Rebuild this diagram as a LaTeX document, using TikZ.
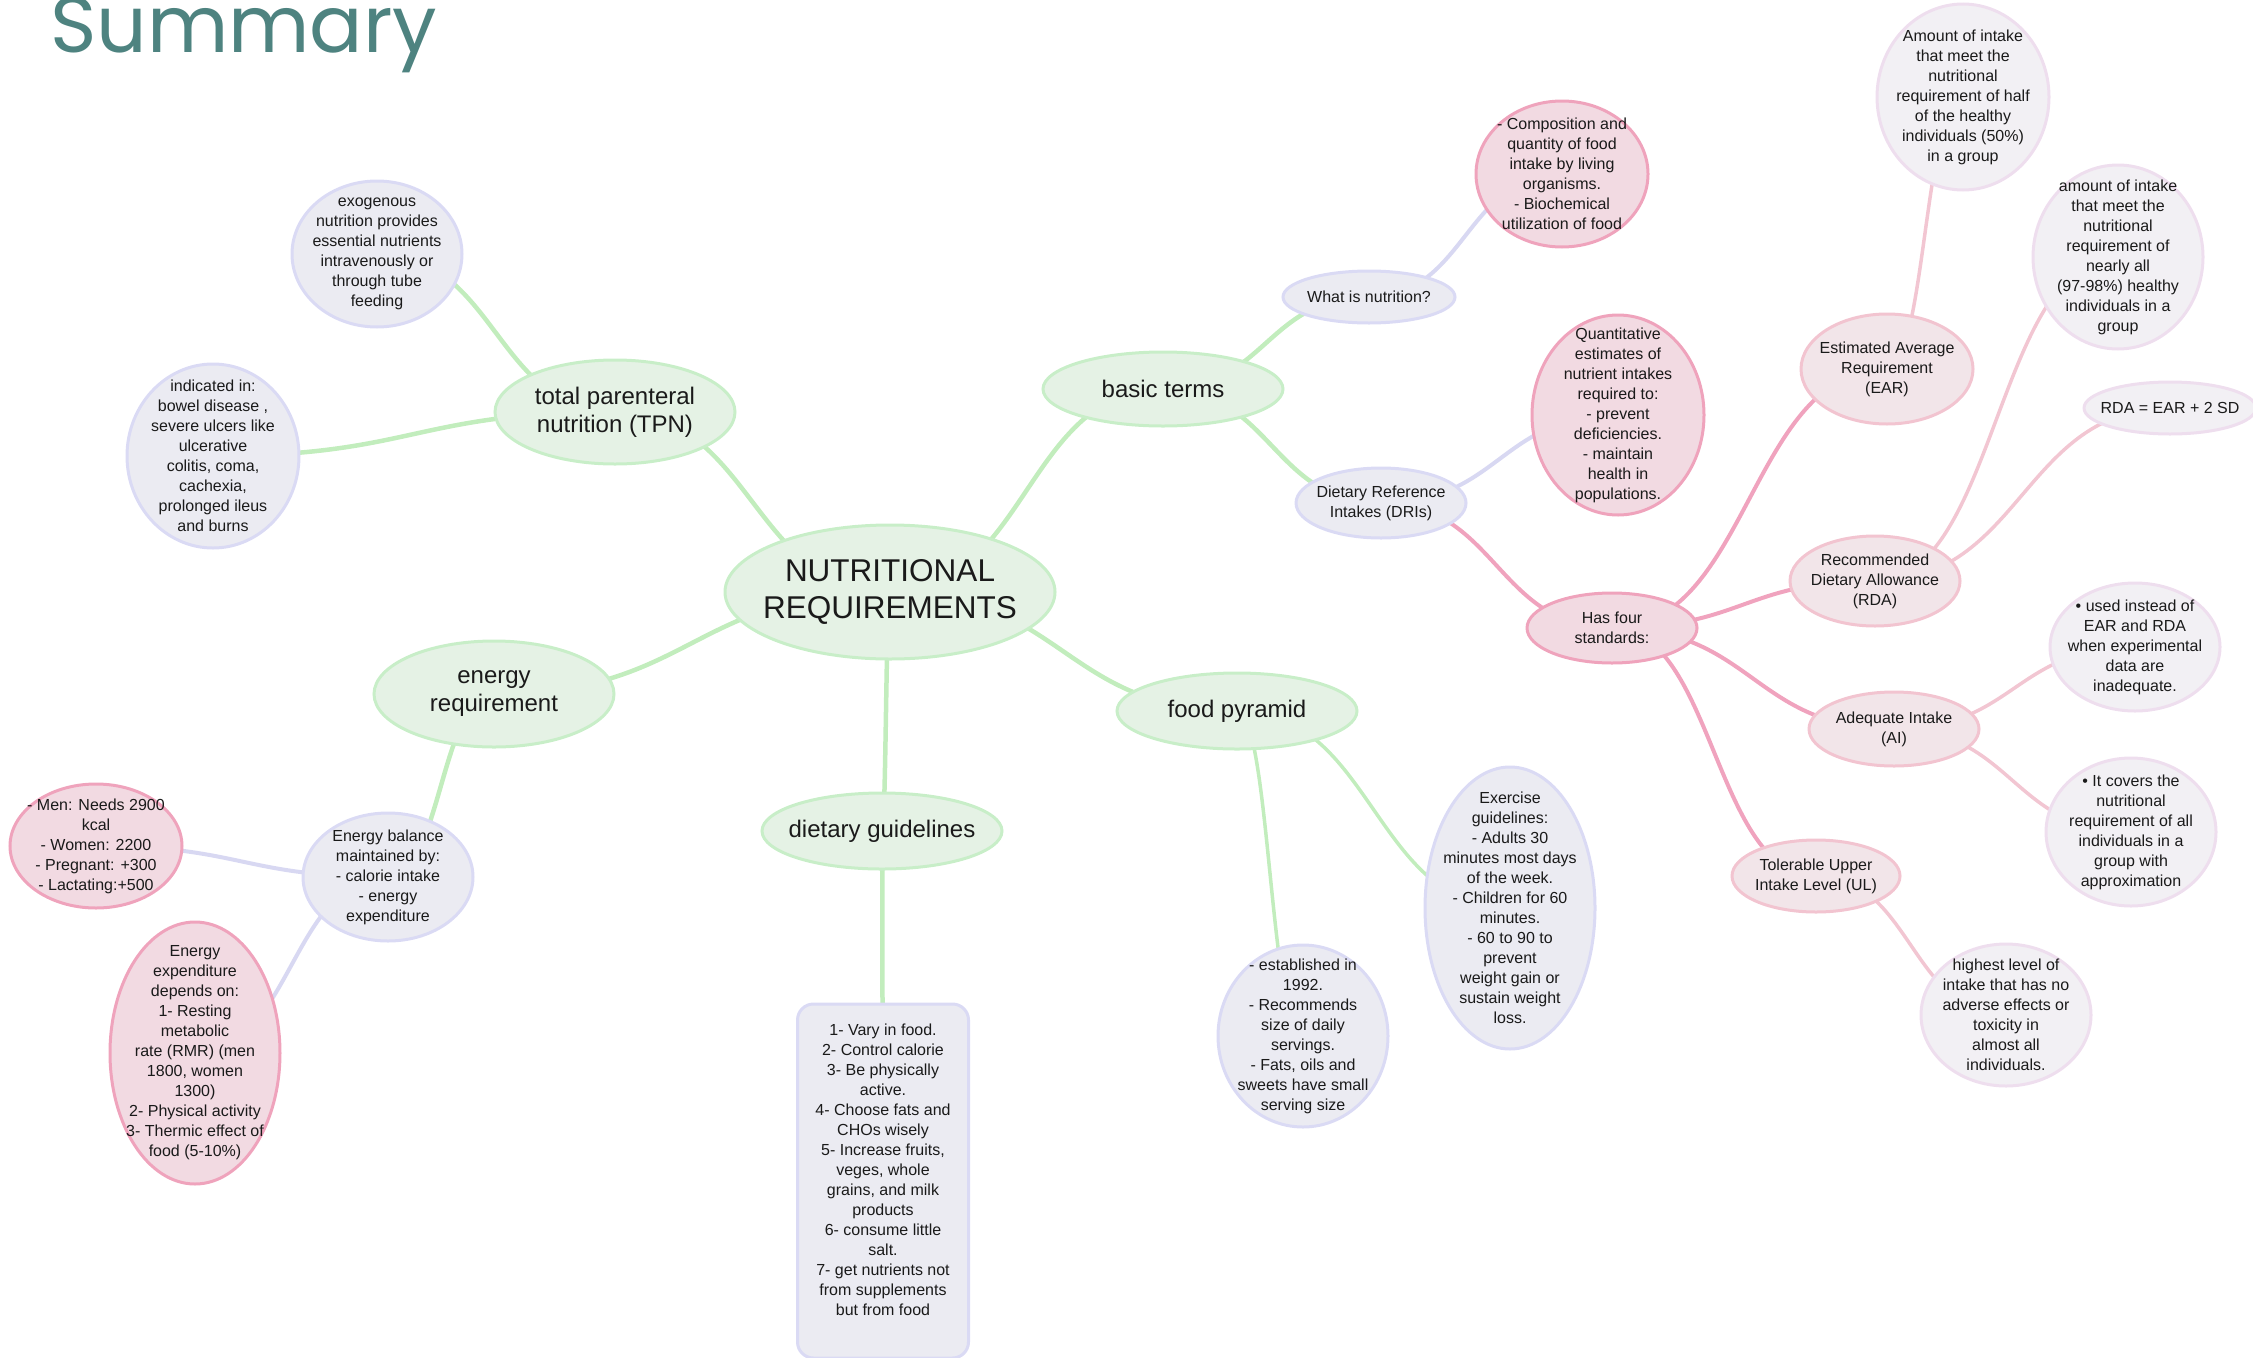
\documentclass[tikz,border=0pt]{standalone}
\usepackage{fontspec}
\setmainfont{Liberation Sans}
\newfontfamily\titlefont{Poppins}
\usetikzlibrary{shapes.geometric,calc,backgrounds}
\definecolor{gfill}{HTML}{E5F2E5}
\definecolor{gline}{HTML}{C8EEC8}
\definecolor{gcon}{HTML}{C2EDBD}
\definecolor{lfill}{HTML}{EBEBF2}
\definecolor{lline}{HTML}{DADAF4}
\definecolor{lcon}{HTML}{D8D8F2}
\definecolor{pfill}{HTML}{F2DAE2}
\definecolor{pline}{HTML}{EFA3BC}
\definecolor{pcon}{HTML}{F0A3BE}
\definecolor{qfill}{HTML}{F2E5E9}
\definecolor{qline}{HTML}{F2C4D0}
\definecolor{qcon}{HTML}{F2C6D2}
\definecolor{ffill}{HTML}{F2F0F4}
\definecolor{fline}{HTML}{EEDEEE}
\definecolor{titlec}{HTML}{4E8380}
\definecolor{ink}{HTML}{1A1A1A}
\newcommand\fsmall{\fontsize{16}{20}\selectfont}
\newcommand\fmid{\fontsize{24}{28}\selectfont}
\newcommand\fbig{\fontsize{31.5}{37}\selectfont}
\begin{document}
\begin{tikzpicture}[x=1pt,y=-1pt,
  mm/.style={to path={let \p1=(\tikztostart), \p2=(\tikztotarget) in
     .. controls ({0.5*\x1+0.5*\x2},\y1) and ({0.5*\x1+0.5*\x2},\y2) .. (\tikztotarget)}},
  el/.style={ellipse, inner sep=0pt, line width=3pt},
  glev/.style={el, fill=gfill, draw=gline},
  llev/.style={el, fill=lfill, draw=lline},
  plev/.style={el, fill=pfill, draw=pline},
  qlev/.style={el, fill=qfill, draw=qline},
  flev/.style={el, fill=ffill, draw=fline},
  txt/.style={align=center, font=\fsmall, inner sep=0pt, text=ink},
  mtxt/.style={align=center, font=\fmid, inner sep=0pt, text=ink},
  btxt/.style={align=center, font=\fbig, inner sep=0pt, text=ink},
  gc/.style={draw=gcon, line width=4.5pt, line cap=round},
  lc/.style={draw=lcon, line width=4pt, line cap=round},
  pc/.style={draw=pcon, line width=4pt, line cap=round},
  qc/.style={draw=qcon, line width=3.5pt, line cap=round}]
\useasboundingbox (0,0) rectangle (2253,1357);
\node[anchor=base west, font=\titlefont\fontsize{79}{79}\selectfont, text=titlec, inner sep=0pt] (title) at (50,52) {Summary};

% level 0/1
\node[glev, minimum width=330, minimum height=134, label={[btxt]center:{NUTRITIONAL\\REQUIREMENTS}}] (central) at (890,592) {};
\node[glev, minimum width=240, minimum height=104, label={[mtxt]center:{total parenteral\\nutrition (TPN)}}] (tpn) at (615,412) {};
\node[glev, minimum width=240, minimum height=74, label={[mtxt]center:{basic terms}}] (basic) at (1163,389) {};
\node[glev, minimum width=240, minimum height=106, label={[mtxt]center:{energy\\requirement}}] (energy) at (494,694) {};
\node[glev, minimum width=240, minimum height=76, label={[mtxt]center:{dietary guidelines}}] (dietary) at (882,831) {};
\node[glev, minimum width=240, minimum height=76, label={[mtxt]center:{food pyramid}}] (food) at (1237,711) {};

% left side
\node[llev, minimum width=170, minimum height=146, label={[txt]center:{exogenous\\nutrition provides\\essential nutrients\\intravenously or\\through tube\\feeding}}] (exog) at (377,254) {};
\node[llev, minimum width=172, minimum height=184, label={[txt]center:{indicated in:\\bowel disease ,\\severe ulcers like\\ulcerative\\colitis, coma,\\cachexia,\\prolonged ileus\\and burns}}] (indic) at (213,456) {};
\node[llev, minimum width=170, minimum height=128, label={[txt]center:{Energy balance\\maintained by:\\- calorie intake\\- energy\\expenditure}}] (ebal) at (388,877) {};
\node[plev, minimum width=172, minimum height=124, label={[txt]center:{- Men: Needs 2900\\kcal\\- Women: 2200\\- Pregnant: +300\\- Lactating:+500}}] (men) at (96,846) {};
\node[plev, minimum width=170, minimum height=262, label={[txt]center:{Energy\\expenditure\\depends on:\\1- Resting\\metabolic\\rate (RMR) (men\\1800, women\\1300)\\2- Physical activity\\3- Thermic effect of\\food (5-10\%)}}] (eexp) at (195,1053) {};

% guidelines box
\node[rectangle, rounded corners=16pt, fill=lfill, draw=lline, line width=3pt, minimum width=171, minimum height=354, inner sep=0pt] (gbox) at (883,1181) {};
\node[txt] (gtext) at (883,1170) {1- Vary in food.\\2- Control calorie\\3- Be physically\\active.\\4- Choose fats and\\CHOs wisely\\5- Increase fruits,\\veges, whole\\grains, and milk\\products\\6- consume little\\salt.\\7- get nutrients not\\from supplements\\but from food};

% food pyramid children
\node[llev, minimum width=170, minimum height=182, label={[txt]center:{- established in\\1992.\\- Recommends\\size of daily\\servings.\\- Fats, oils and\\sweets have small\\serving size}}] (estab) at (1303,1036) {};
\node[llev, minimum width=170, minimum height=282, label={[txt]center:{Exercise\\guidelines:\\- Adults 30\\minutes most days\\of the week.\\- Children for 60\\minutes.\\- 60 to 90 to\\prevent\\weight gain or\\sustain weight\\loss.}}] (exer) at (1510,908) {};

% basic terms children
\node[llev, minimum width=172, minimum height=52, label={[txt]center:{What is nutrition?}}] (what) at (1369,297) {};
\node[llev, minimum width=170, minimum height=70, label={[txt]center:{Dietary Reference\\Intakes (DRIs)}}] (dri) at (1381,503) {};
\node[plev, minimum width=172, minimum height=146, label={[txt]center:{- Composition and\\quantity of food\\intake by living\\organisms.\\- Biochemical\\utilization of food}}] (comp) at (1562,174) {};
\node[plev, minimum width=172, minimum height=200, label={[txt]center:{Quantitative\\estimates of\\nutrient intakes\\required to:\\- prevent\\deficiencies.\\- maintain\\health in\\populations.}}] (quant) at (1618,415) {};
\node[plev, minimum width=170, minimum height=70, label={[txt]center:{Has four\\standards:}}] (four) at (1612,628) {};

% standards
\node[qlev, minimum width=172, minimum height=110, label={[txt]center:{Estimated Average\\Requirement\\(EAR)}}] (ear) at (1887,369) {};
\node[qlev, minimum width=170, minimum height=90, label={[txt]center:{Recommended\\Dietary Allowance\\(RDA)}}] (rda) at (1875,581) {};
\node[qlev, minimum width=170, minimum height=74, label={[txt]center:{Adequate Intake\\(AI)}}] (ai) at (1894,729) {};
\node[qlev, minimum width=168, minimum height=72, label={[txt]center:{Tolerable Upper\\Intake Level (UL)}}] (ul) at (1816,876) {};

\node[flev, minimum width=172, minimum height=186, label={[txt]center:{Amount of intake\\that meet the\\nutritional\\requirement of half\\of the healthy\\individuals (50\%)\\in a group}}] (amt1) at (1963,97) {};
\node[flev, minimum width=170, minimum height=184, label={[txt]center:{amount of intake\\that meet the\\nutritional\\requirement of\\nearly all\\(97-98\%) healthy\\individuals in a\\group}}] (amt2) at (2118,257) {};
\node[flev, minimum width=172, minimum height=52, label={[txt]center:{RDA = EAR + 2 SD}}] (rdaeq) at (2170,408) {};
\node[flev, minimum width=170, minimum height=128, label={[txt]center:{• used instead of\\EAR and RDA\\when experimental\\data are\\inadequate.}}] (used) at (2135,647) {};
\node[flev, minimum width=170, minimum height=148, label={[txt]center:{• It covers the\\nutritional\\requirement of all\\individuals in a\\group with\\approximation}}] (covers) at (2131,832) {};
\node[flev, minimum width=170, minimum height=142, label={[txt]center:{highest level of\\intake that has no\\adverse effects or\\toxicity in\\almost all\\individuals.}}] (high) at (2006,1015) {};

\begin{scope}[on background layer]
\draw[gc] (central.center) to[mm] (tpn.center);
\draw[gc] (central.center) to[mm] (basic.center);
\draw[gc] (central.center) to[mm] (energy.center);
\draw[gc] (central.center) to[mm] (dietary.center);
\draw[gc] (central.center) to[mm] (food.center);
\draw[gc] (tpn.center) to[mm] (exog.center);
\draw[gc] (tpn.center) to[mm] (indic.center);
\draw[gc] (energy.center) to[mm] (ebal.center);
\draw[gc] (dietary.center) to[mm] (gbox.center);
\draw[gc, line width=3.5pt] (food.center) to[mm] (estab.center);
\draw[gc, line width=3.5pt] (food.center) to[mm] (exer.center);
\draw[gc] (basic.center) to[mm] (what.center);
\draw[gc] (basic.center) to[mm] (dri.center);
\draw[lc] (ebal.center) to[mm] (men.center);
\draw[lc] (ebal.center) to[mm] (eexp.center);
\draw[lc] (what.center) to[mm] (comp.center);
\draw[lc] (dri.center) to[mm] (quant.center);
\draw[pc] (dri.center) to[mm] (four.center);
\draw[pc] (four.center) to[mm] (ear.center);
\draw[pc] (four.center) to[mm] (rda.center);
\draw[pc] (four.center) to[mm] (ai.center);
\draw[pc] (four.center) to[mm] (ul.center);
\draw[qc] (ear.center) to[mm] (amt1.center);
\draw[qc] (rda.center) to[mm] (amt2.center);
\draw[qc] (rda.center) to[mm] (rdaeq.center);
\draw[qc] (ai.center) to[mm] (used.center);
\draw[qc] (ai.center) to[mm] (covers.center);
\draw[qc] (ul.center) to[mm] (high.center);
\end{scope}
\end{tikzpicture}
\end{document}
